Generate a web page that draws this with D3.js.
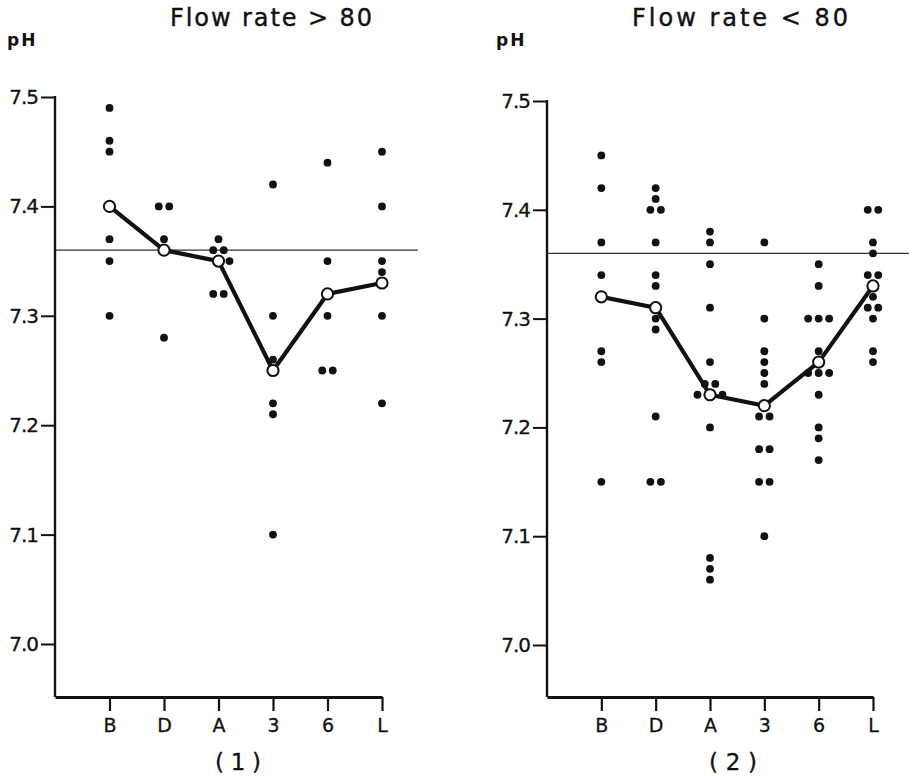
<!DOCTYPE html>
<html>
<head>
<meta charset="utf-8">
<script src="https://cdn.jsdelivr.net/npm/d3@7"></script>
<style>
  html, body { margin: 0; padding: 0; background: #fff; }
  svg { display: block; }
  text { font-family: "DejaVu Sans", "Liberation Sans", sans-serif; fill: #111; }
</style>
</head>
<body>
<svg id="chart" width="918" height="776"></svg>
<script>
// ---------------- data ----------------
const categories = ["B", "D", "A", "3", "6", "L"];
const yTickValues = [7.0, 7.1, 7.2, 7.3, 7.4, 7.5];
const referencePH = 7.36;

const titles = ["Flow rate > 80", "Flow rate < 80"];
const panelLabels = ["(1)", "(2)"];

// Panel 1: flow rate > 80 — individual pH values per category
const panel1Values = [
  [7.49, 7.46, 7.45, 7.37, 7.35, 7.30],           // B
  [7.40, 7.40, 7.37, 7.28],                       // D
  [7.37, 7.36, 7.36, 7.35, 7.32, 7.32],           // A
  [7.42, 7.30, 7.26, 7.22, 7.21, 7.10],           // 3
  [7.44, 7.35, 7.30, 7.25, 7.25],                 // 6
  [7.45, 7.40, 7.35, 7.34, 7.30, 7.22]            // L
];
const panel1Means = [7.40, 7.36, 7.35, 7.25, 7.32, 7.33];

// Panel 2: flow rate < 80
const panel2Values = [
  [7.45, 7.42, 7.37, 7.34, 7.27, 7.26, 7.15],                                   // B
  [7.42, 7.41, 7.40, 7.40, 7.37, 7.34, 7.33, 7.30, 7.29, 7.21, 7.15, 7.15],     // D
  [7.38, 7.37, 7.35, 7.31, 7.26, 7.24, 7.24, 7.23, 7.23, 7.20, 7.08, 7.07, 7.06], // A
  [7.37, 7.30, 7.27, 7.26, 7.25, 7.24, 7.21, 7.21, 7.18, 7.18, 7.15, 7.15, 7.10], // 3
  [7.35, 7.33, 7.30, 7.30, 7.30, 7.27, 7.25, 7.25, 7.25, 7.23, 7.20, 7.19, 7.17], // 6
  [7.40, 7.40, 7.37, 7.36, 7.34, 7.34, 7.32, 7.31, 7.31, 7.30, 7.27, 7.26]      // L
];
const panel2Means = [7.32, 7.31, 7.23, 7.22, 7.26, 7.33];

// ---------------- layout ----------------
const svg = d3.select("#chart");
const ink = "#111";

const panels = [
  { values: panel1Values, means: panel1Means, title: titles[0], label: panelLabels[0],
    x0: 55, x6: 382, yTop: 97, y70: 644, base: 697,
    titleX: 170, titleW: 202, phX: 7, labelX: 238, labelW: 46 },
  { values: panel2Values, means: panel2Means, title: titles[1], label: panelLabels[1],
    x0: 547, x6: 873, yTop: 101, y70: 645, base: 697,
    titleX: 632, titleW: 216, phX: 496, labelX: 733, labelW: 48 }
];

panels.forEach(p => {
  const x = d3.scaleLinear().domain([0, 6]).range([p.x0, p.x6]);
  const y = d3.scaleLinear().domain([7.0, 7.5]).range([p.y70, p.yTop]);
  const g = svg.append("g");

  // title
  g.append("text")
    .attr("x", p.titleX).attr("y", 26)
    .attr("textLength", p.titleW).attr("lengthAdjust", "spacing")
    .style("font-size", "24px")
    .attr("stroke", ink).attr("stroke-width", 0.4)
    .text(p.title);

  // pH label
  g.append("text")
    .attr("x", p.phX).attr("y", 46)
    .style("font-size", "17px").style("font-weight", "bold")
    .style("letter-spacing", "2px")
    .text("pH");

  // reference line
  g.append("line")
    .attr("x1", x(0)).attr("x2", x(6.66))
    .attr("y1", y(referencePH)).attr("y2", y(referencePH))
    .attr("stroke", "#333").attr("stroke-width", 1.2);

  // y axis
  const yAxis = d3.axisLeft(y).tickValues(yTickValues)
    .tickFormat(d3.format(".1f")).tickSize(14).tickSizeOuter(0).tickPadding(3);
  const ya = g.append("g").attr("transform", `translate(${x(0)},0)`).call(yAxis);
  ya.select(".domain").remove();
  ya.selectAll(".tick line").attr("stroke", ink).attr("stroke-width", 2);
  ya.selectAll(".tick text")
    .style("font-size", "20px").style("font-family", "DejaVu Sans")
    .style("letter-spacing", "-1px")
    .attr("fill", ink).attr("stroke", ink).attr("stroke-width", 0.3);
  g.append("line")
    .attr("x1", x(0)).attr("x2", x(0))
    .attr("y1", y(7.5) - 1).attr("y2", p.base)
    .attr("stroke", ink).attr("stroke-width", 2.4);

  // x axis
  const xAxis = d3.axisBottom(x).tickValues(d3.range(1, 7))
    .tickFormat(i => categories[i - 1]).tickSize(14).tickSizeOuter(0).tickPadding(8);
  const xa = g.append("g").attr("transform", `translate(0,${p.base})`).call(xAxis);
  xa.select(".domain").attr("stroke", ink).attr("stroke-width", 2.8);
  xa.selectAll(".tick line").attr("stroke", ink).attr("stroke-width", 2.2);
  xa.selectAll(".tick text")
    .style("font-size", "19px").style("font-family", "DejaVu Sans")
    .attr("fill", ink).attr("stroke", ink).attr("stroke-width", 0.3);

  // individual points with side-by-side placement of equal values
  const pts = [];
  p.values.forEach((vals, ci) => {
    const m = p.means[ci];
    const groups = d3.group(vals, v => v.toFixed(2));
    groups.forEach((arr, key) => {
      const v = +key, n = arr.length;
      const nearMean = Math.abs(v - m) < 0.005;
      arr.forEach((_, k) => {
        let off;
        if (nearMean) {
          off = n === 1 ? 11 : (k - (n - 1) / 2) * 25;
        } else {
          off = (k - (n - 1) / 2) * 10.5;
        }
        pts.push({ cx: x(ci + 1) + off, cy: y(v) });
      });
    });
  });
  g.selectAll("circle.pt").data(pts).join("circle")
    .attr("class", "pt")
    .attr("cx", d => d.cx).attr("cy", d => d.cy)
    .attr("r", 3.9).attr("fill", ink);

  // mean line
  const line = d3.line().x((d, i) => x(i + 1)).y(d => y(d));
  g.append("path").datum(p.means)
    .attr("d", line).attr("fill", "none")
    .attr("stroke", ink).attr("stroke-width", 4.2).attr("stroke-linejoin", "round");

  g.selectAll("circle.mean").data(p.means).join("circle")
    .attr("class", "mean")
    .attr("cx", (d, i) => x(i + 1)).attr("cy", d => y(d))
    .attr("r", 5.6).attr("fill", "#fff").attr("stroke", ink).attr("stroke-width", 2);

  // panel label
  g.append("text")
    .attr("x", p.labelX - p.labelW / 2).attr("y", 770)
    .attr("textLength", p.labelW).attr("lengthAdjust", "spacing")
    .style("font-size", "23px")
    .attr("stroke", ink).attr("stroke-width", 0.3)
    .text(p.label);
});
</script>
</body>
</html>
